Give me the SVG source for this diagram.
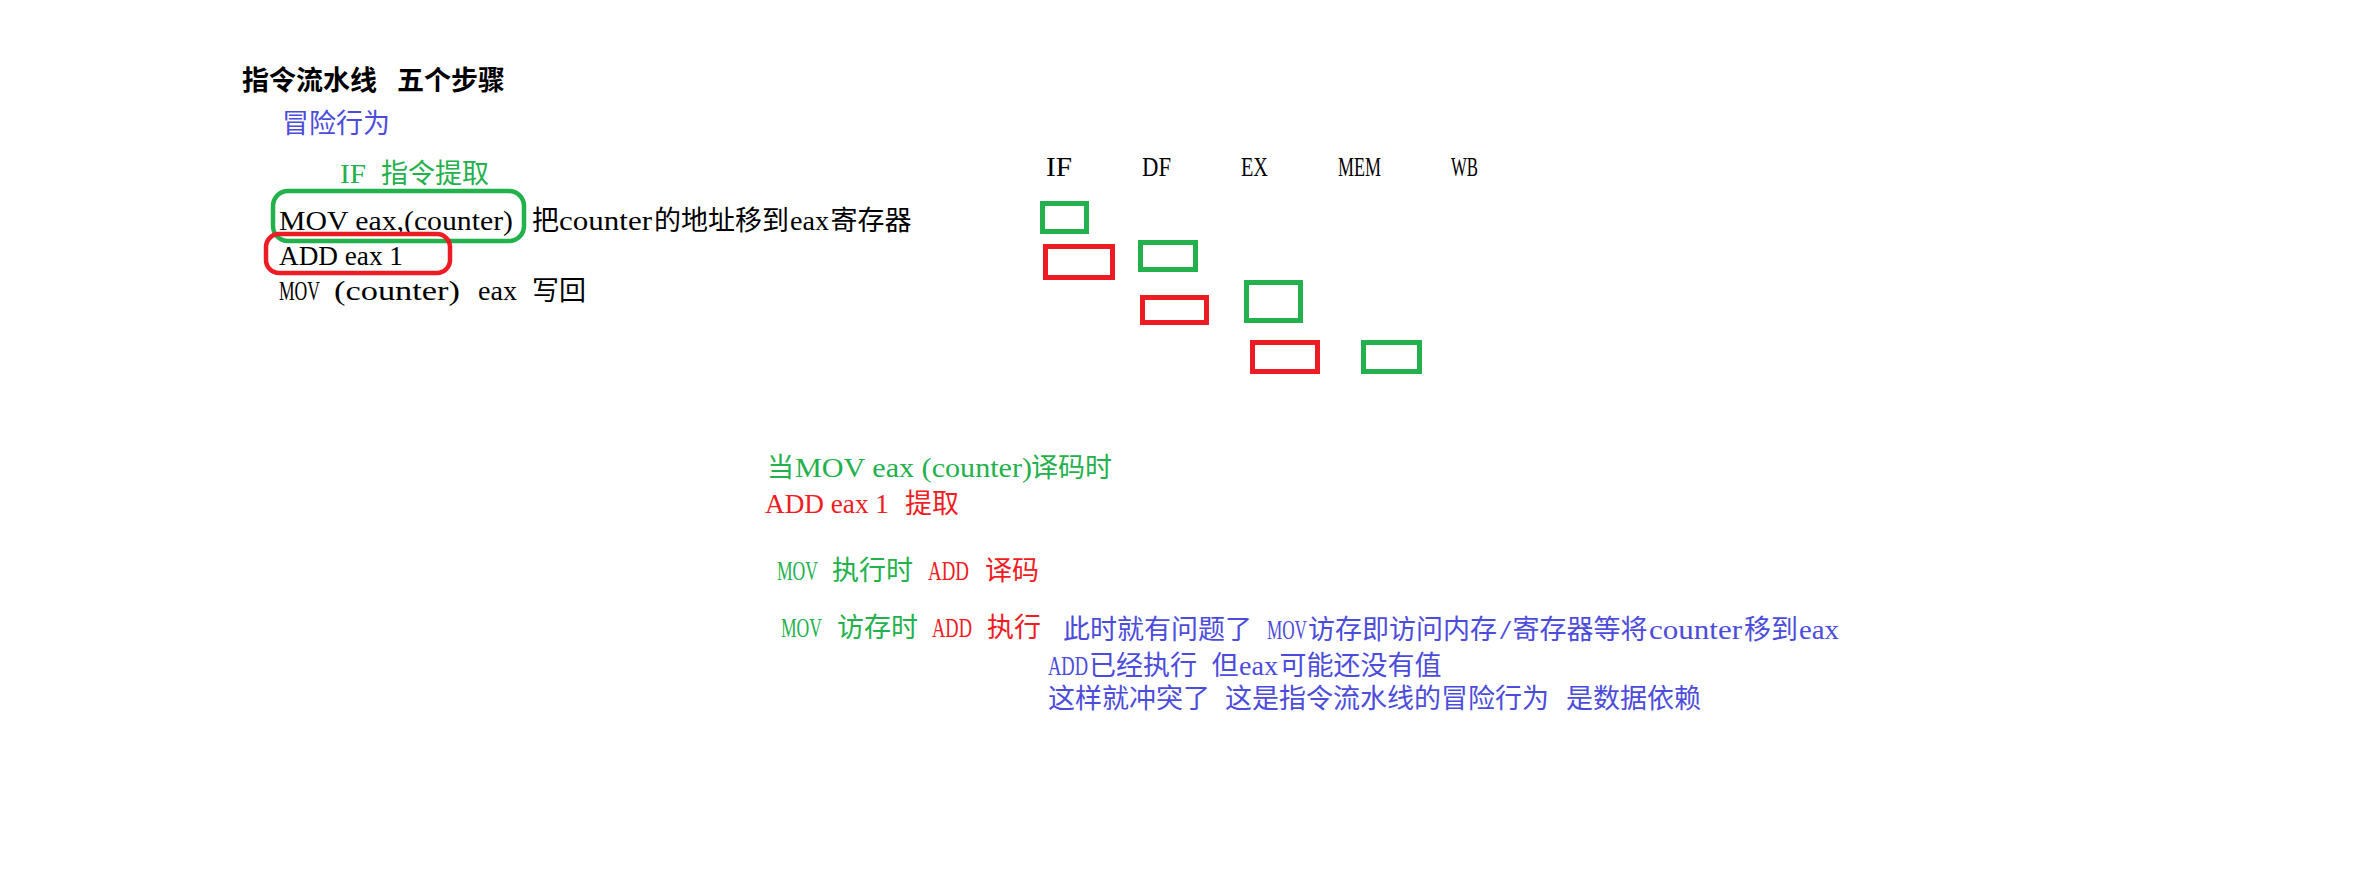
<svg xmlns="http://www.w3.org/2000/svg" width="2370" height="876" viewBox="0 0 2370 876">
<style>
text{font-family:"Liberation Serif","Noto Sans CJK SC",serif;font-size:27px}
.L{font-size:28px}
.k{fill:#000}
.g{fill:#22b14c}
.r{fill:#f01c24}
.b{fill:#4c4cdc}
.bold{font-weight:bold}
.gb{fill:none;stroke:#22b14c;stroke-width:5}
.rb{fill:none;stroke:#ed1c24;stroke-width:5}
.gh{fill:none;stroke:#22b14c;stroke-width:4.5}
.rh{fill:none;stroke:#ed1c24;stroke-width:4.5}
</style>
<rect width="2370" height="876" fill="#fff"/>

<g id="title">
<text class="k bold" y="90"><tspan x="242">指令流水线</tspan><tspan x="397">五个步骤</tspan></text>
</g>
<g id="hazard-label">
<text class="b" x="282" y="133">冒险行为</text>
</g>
<g id="if-label">
<text class="g" y="183"><tspan class="L" x="340" textLength="26" lengthAdjust="spacingAndGlyphs">IF</tspan><tspan x="381">指令提取</tspan></text>
</g>

<g id="instr-1">
<text class="k" y="230"><tspan class="L" x="279" textLength="234" lengthAdjust="spacingAndGlyphs">MOV eax,(counter)</tspan><tspan x="532">把</tspan><tspan class="L" x="559" textLength="93" lengthAdjust="spacingAndGlyphs">counter</tspan><tspan x="654">的地址移到</tspan><tspan class="L" x="790" textLength="39" lengthAdjust="spacingAndGlyphs">eax</tspan><tspan x="830.5">寄存器</tspan></text>
<rect class="gh" x="273" y="191" width="251" height="50" rx="15"/>
</g>
<g id="instr-2">
<text class="k L" y="265" x="279" textLength="124" lengthAdjust="spacingAndGlyphs">ADD eax 1</text>
<rect class="rh" x="266" y="234" width="184" height="39" rx="13"/>
</g>
<g id="instr-3">
<text class="k" y="300"><tspan class="L" x="279" textLength="41" lengthAdjust="spacingAndGlyphs">MOV</tspan><tspan class="L" x="334" textLength="126" lengthAdjust="spacingAndGlyphs">(counter)</tspan><tspan class="L" x="478" textLength="39" lengthAdjust="spacingAndGlyphs">eax</tspan><tspan x="532">写回</tspan></text>
</g>

<g id="stage-headers">
<text class="k L" y="176" x="1046" textLength="26" lengthAdjust="spacingAndGlyphs">IF</text>
<text class="k L" y="176" x="1142" textLength="29" lengthAdjust="spacingAndGlyphs">DF</text>
<text class="k L" y="176" x="1241" textLength="27" lengthAdjust="spacingAndGlyphs">EX</text>
<text class="k L" y="176" x="1338" textLength="43" lengthAdjust="spacingAndGlyphs">MEM</text>
<text class="k L" y="176" x="1451" textLength="27" lengthAdjust="spacingAndGlyphs">WB</text>
</g>

<g id="pipeline">
<rect class="gb" x="1042.5" y="203.5" width="44" height="28"/>
<rect class="rb" x="1045.5" y="246.5" width="67" height="31"/>
<rect class="gb" x="1140.5" y="242.5" width="55" height="27"/>
<rect class="rb" x="1142.5" y="297.5" width="64" height="25"/>
<rect class="gb" x="1246.5" y="282.5" width="54" height="38"/>
<rect class="rb" x="1252.5" y="342.5" width="65" height="29"/>
<rect class="gb" x="1363.5" y="342.5" width="56" height="29"/>
</g>

<g id="note-decode">
<text class="g" y="477"><tspan x="767">当</tspan><tspan class="L" x="795" textLength="237" lengthAdjust="spacingAndGlyphs">MOV eax (counter)</tspan><tspan x="1031">译码时</tspan></text>
</g>
<g id="note-fetch">
<text class="r" y="513"><tspan class="L" x="765" textLength="124" lengthAdjust="spacingAndGlyphs">ADD eax 1</tspan><tspan x="905">提取</tspan></text>
</g>
<g id="note-exec">
<text y="580"><tspan class="g L" x="777" textLength="41" lengthAdjust="spacingAndGlyphs">MOV</tspan><tspan class="g" x="832">执行时</tspan><tspan class="r L" x="928" textLength="41" lengthAdjust="spacingAndGlyphs">ADD</tspan><tspan class="r" x="985">译码</tspan></text>
</g>
<g id="note-mem">
<text y="637"><tspan class="g L" x="781" textLength="41" lengthAdjust="spacingAndGlyphs">MOV</tspan><tspan class="g" x="837">访存时</tspan><tspan class="r L" x="932" textLength="40" lengthAdjust="spacingAndGlyphs">ADD</tspan><tspan class="r" x="987">执行</tspan></text>
</g>
<g id="explanation">
<text class="b" y="639"><tspan x="1063">此时就有问题了</tspan><tspan class="L" x="1267" textLength="40" lengthAdjust="spacingAndGlyphs">MOV</tspan><tspan x="1308">访存即访问内存</tspan><tspan class="L" x="1500" textLength="11" lengthAdjust="spacingAndGlyphs">/</tspan><tspan x="1512.5">寄存器等将</tspan><tspan class="L" x="1649" textLength="93" lengthAdjust="spacingAndGlyphs">counter</tspan><tspan x="1744">移到</tspan><tspan class="L" x="1799" textLength="40" lengthAdjust="spacingAndGlyphs">eax</tspan></text>
<text class="b" y="675"><tspan class="L" x="1048" textLength="40" lengthAdjust="spacingAndGlyphs">ADD</tspan><tspan x="1089">已经执行</tspan><tspan x="1211.5">但</tspan><tspan class="L" x="1239" textLength="39" lengthAdjust="spacingAndGlyphs">eax</tspan><tspan x="1279.5">可能还没有值</tspan></text>
<text class="b" y="708"><tspan x="1048">这样就冲突了</tspan><tspan x="1225">这是指令流水线的冒险行为</tspan><tspan x="1566">是数据依赖</tspan></text>
</g>
</svg>
